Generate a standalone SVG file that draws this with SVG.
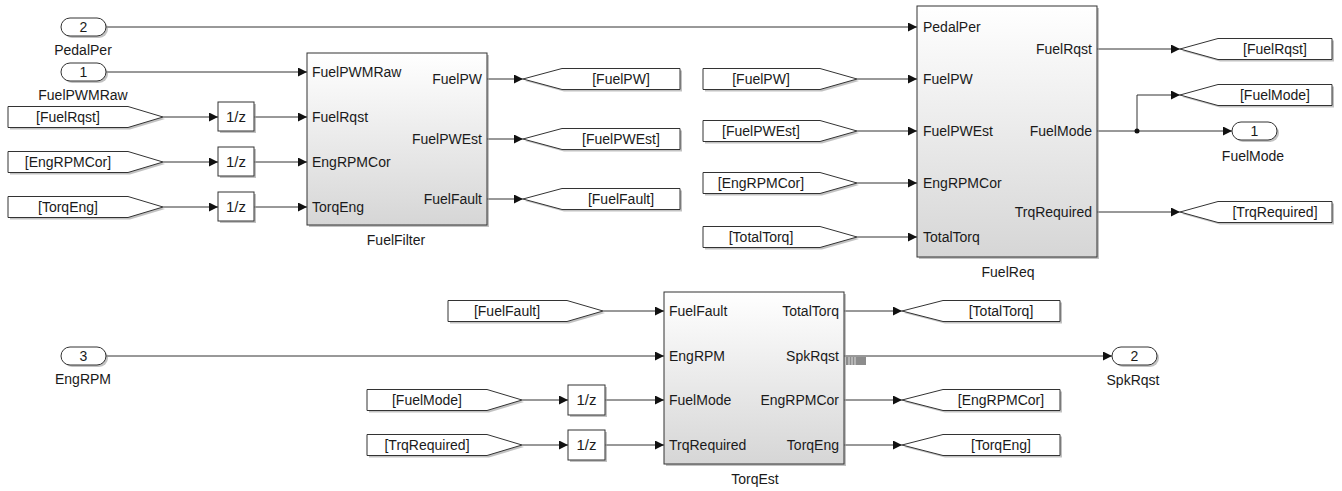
<svg xmlns="http://www.w3.org/2000/svg" width="1342" height="491" viewBox="0 0 1342 491">
<style>
text{font-family:"Liberation Sans","DejaVu Sans",sans-serif;font-size:14px;fill:#1a1a1a}
.c{text-anchor:middle}
.r{text-anchor:end}
.blk{fill:url(#g);stroke:#333;stroke-width:1}
.sh{fill:#9a9a9a;opacity:.6}
.tag{fill:#fff;stroke:#333;stroke-width:1}
.ln{fill:none;stroke:#333;stroke-width:1;marker-end:url(#a)}
.ln0{fill:none;stroke:#333;stroke-width:1}
.dz{fill:#fff;stroke:#333;stroke-width:1}
</style>
<defs>
<linearGradient id="g" x1="0" y1="0" x2="0" y2="1"><stop offset="0" stop-color="#ffffff"/><stop offset="1" stop-color="#d6d6d6"/></linearGradient>
<marker id="a" markerUnits="userSpaceOnUse" markerWidth="10" markerHeight="10" refX="9" refY="4.5" orient="auto"><path d="M0,0L9,4.5L0,9z" fill="#111"/></marker>
</defs>
<rect width="1342" height="491" fill="#fff"/>

<g id="connectors">
<path class="ln" d="M106,27H917"/>
<path class="ln" d="M106,72H307"/>
<path class="ln" d="M163,117H218"/><path class="ln" d="M254,117H307"/>
<path class="ln" d="M163,162H218"/><path class="ln" d="M254,162H307"/>
<path class="ln" d="M163,207H218"/><path class="ln" d="M254,207H307"/>
<path class="ln" d="M487,79H523"/><path class="ln" d="M487,139H523"/><path class="ln" d="M487,199H523"/>
<path class="ln" d="M857,79H917"/><path class="ln" d="M857,131H917"/><path class="ln" d="M857,183H917"/><path class="ln" d="M857,237H917"/>
<path class="ln" d="M1097,49H1180"/>
<path class="ln" d="M1097,131H1232"/>
<path class="ln" d="M1137,131V95H1180"/>
<circle cx="1137" cy="131" r="2.5" fill="#111"/>
<path class="ln" d="M1097,212H1180"/>
<path class="ln" d="M603,311H664"/>
<path class="ln" d="M106,356H664"/>
<path class="ln" d="M522,400H568"/><path class="ln" d="M605,400H664"/>
<path class="ln" d="M522,445H568"/><path class="ln" d="M605,445H664"/>
<path class="ln" d="M844,311H902"/>
<path class="ln" d="M844,356H1112"/>
<path class="ln" d="M844,400H902"/>
<path class="ln" d="M844,445H902"/>
<g id="busmark"><rect x="846" y="357" width="20" height="8" fill="#8c8c8c"/><path d="M849,357v8M852,357v8M855,357v8" stroke="#d0d0d0" stroke-width="1.2"/></g>
</g>

<g id="in_PedalPer"><rect class="sh" x="63" y="20" width="45" height="18" rx="9"/><rect class="tag" x="61" y="18" width="45" height="18" rx="9"/><text class="c" x="83.5" y="32">2</text><text class="c" x="83" y="55">PedalPer</text></g>
<g id="in_FuelPWMRaw"><rect class="sh" x="63" y="65" width="45" height="18" rx="9"/><rect class="tag" x="61" y="63" width="45" height="18" rx="9"/><text class="c" x="83.5" y="77">1</text><text class="c" x="83" y="100">FuelPWMRaw</text></g>
<g id="in_EngRPM"><rect class="sh" x="63" y="349" width="45" height="18" rx="9"/><rect class="tag" x="61" y="347" width="45" height="18" rx="9"/><text class="c" x="83.5" y="361">3</text><text class="c" x="83" y="384">EngRPM</text></g>

<g id="from_FuelRqst"><path class="sh" d="M10,108.5H130L165,119L130,129.5H10z"/><path class="tag" d="M8,106.5H128L163,117L128,127.5H8z"/><text class="c" x="68" y="122">[FuelRqst]</text></g>
<g id="from_EngRPMCor1"><path class="sh" d="M10,153.5H130L165,164L130,174.5H10z"/><path class="tag" d="M8,151.5H128L163,162L128,172.5H8z"/><text class="c" x="68" y="167">[EngRPMCor]</text></g>
<g id="from_TorqEng"><path class="sh" d="M10,198.5H130L165,209L130,219.5H10z"/><path class="tag" d="M8,196.5H128L163,207L128,217.5H8z"/><text class="c" x="68" y="212">[TorqEng]</text></g>

<g id="delay1"><rect class="sh" x="220" y="104" width="36" height="29"/><rect class="dz" x="218" y="102" width="36" height="29"/><text class="c" x="236" y="122" style="font-size:15px">1/z</text></g>
<g id="delay2"><rect class="sh" x="220" y="149" width="36" height="29"/><rect class="dz" x="218" y="147" width="36" height="29"/><text class="c" x="236" y="167" style="font-size:15px">1/z</text></g>
<g id="delay3"><rect class="sh" x="220" y="194" width="36" height="29"/><rect class="dz" x="218" y="192" width="36" height="29"/><text class="c" x="236" y="212" style="font-size:15px">1/z</text></g>

<g id="FuelFilter"><rect class="sh" x="309" y="55" width="180" height="172"/><rect class="blk" x="307" y="53" width="180" height="172"/>
<text x="312" y="77">FuelPWMRaw</text><text x="312" y="122">FuelRqst</text><text x="312" y="167">EngRPMCor</text><text x="312" y="212">TorqEng</text>
<text class="r" x="482" y="84">FuelPW</text><text class="r" x="482" y="144">FuelPWEst</text><text class="r" x="482" y="204">FuelFault</text>
<text class="c" x="396" y="245">FuelFilter</text></g>

<g id="goto_FuelPW"><path class="sh" d="M525,81L564,70.5H682V91.5H564z"/><path class="tag" d="M523,79L562,68.5H680V89.5H562z"/><text class="c" x="621" y="84">[FuelPW]</text></g>
<g id="goto_FuelPWEst"><path class="sh" d="M525,141L564,130.5H682V151.5H564z"/><path class="tag" d="M523,139L562,128.5H680V149.5H562z"/><text class="c" x="621" y="144">[FuelPWEst]</text></g>
<g id="goto_FuelFault"><path class="sh" d="M525,201L564,190.5H682V211.5H564z"/><path class="tag" d="M523,199L562,188.5H680V209.5H562z"/><text class="c" x="621" y="204">[FuelFault]</text></g>

<g id="from_FuelPW"><path class="sh" d="M705,70.5H822L859,81L822,91.5H705z"/><path class="tag" d="M703,68.5H820L857,79L820,89.5H703z"/><text class="c" x="761" y="84">[FuelPW]</text></g>
<g id="from_FuelPWEst"><path class="sh" d="M705,122.5H822L859,133L822,143.5H705z"/><path class="tag" d="M703,120.5H820L857,131L820,141.5H703z"/><text class="c" x="761" y="136">[FuelPWEst]</text></g>
<g id="from_EngRPMCor2"><path class="sh" d="M705,174.5H822L859,185L822,195.5H705z"/><path class="tag" d="M703,172.5H820L857,183L820,193.5H703z"/><text class="c" x="761" y="188">[EngRPMCor]</text></g>
<g id="from_TotalTorq"><path class="sh" d="M705,228.5H822L859,239L822,249.5H705z"/><path class="tag" d="M703,226.5H820L857,237L820,247.5H703z"/><text class="c" x="761" y="242">[TotalTorq]</text></g>

<g id="FuelReq"><rect class="sh" x="919" y="8" width="180" height="251"/><rect class="blk" x="917" y="6" width="180" height="251"/>
<text x="923" y="32">PedalPer</text><text x="923" y="84">FuelPW</text><text x="923" y="136">FuelPWEst</text><text x="923" y="188">EngRPMCor</text><text x="923" y="242">TotalTorq</text>
<text class="r" x="1092" y="54">FuelRqst</text><text class="r" x="1092" y="136">FuelMode</text><text class="r" x="1092" y="217">TrqRequired</text>
<text class="c" x="1008" y="277">FuelReq</text></g>

<g id="goto_FuelRqst"><path class="sh" d="M1182,51L1220,40.5H1334V61.5H1220z"/><path class="tag" d="M1180,49L1218,38.5H1332V59.5H1218z"/><text class="c" x="1275" y="54">[FuelRqst]</text></g>
<g id="goto_FuelMode"><path class="sh" d="M1182,97L1220,86.5H1334V107.5H1220z"/><path class="tag" d="M1180,95L1218,84.5H1332V105.5H1218z"/><text class="c" x="1275" y="100">[FuelMode]</text></g>
<g id="out_FuelMode"><rect class="sh" x="1234" y="124" width="45" height="18" rx="9"/><rect class="tag" x="1232" y="122" width="45" height="18" rx="9"/><text class="c" x="1254.5" y="136">1</text><text class="c" x="1253" y="161">FuelMode</text></g>
<g id="goto_TrqRequired"><path class="sh" d="M1182,214L1220,203.5H1334V224.5H1220z"/><path class="tag" d="M1180,212L1218,201.5H1332V222.5H1218z"/><text class="c" x="1275" y="217">[TrqRequired]</text></g>

<g id="from_FuelFault"><path class="sh" d="M450,302.5H569L605,313L569,323.5H450z"/><path class="tag" d="M448,300.5H567L603,311L567,321.5H448z"/><text class="c" x="507" y="316">[FuelFault]</text></g>
<g id="from_FuelMode"><path class="sh" d="M369,391.5H489L524,402L489,412.5H369z"/><path class="tag" d="M367,389.5H487L522,400L487,410.5H367z"/><text class="c" x="427" y="405">[FuelMode]</text></g>
<g id="from_TrqRequired"><path class="sh" d="M369,436.5H489L524,447L489,457.5H369z"/><path class="tag" d="M367,434.5H487L522,445L487,455.5H367z"/><text class="c" x="427" y="450">[TrqRequired]</text></g>

<g id="delay4"><rect class="sh" x="570" y="387" width="37" height="30"/><rect class="dz" x="568" y="385" width="37" height="30"/><text class="c" x="586.5" y="405" style="font-size:15px">1/z</text></g>
<g id="delay5"><rect class="sh" x="570" y="432" width="37" height="30"/><rect class="dz" x="568" y="430" width="37" height="30"/><text class="c" x="586.5" y="450" style="font-size:15px">1/z</text></g>

<g id="TorqEst"><rect class="sh" x="666" y="294" width="180" height="172"/><rect class="blk" x="664" y="292" width="180" height="172"/>
<text x="669" y="316">FuelFault</text><text x="669" y="361">EngRPM</text><text x="669" y="405">FuelMode</text><text x="669" y="450">TrqRequired</text>
<text class="r" x="839" y="316">TotalTorq</text><text class="r" x="839" y="361">SpkRqst</text><text class="r" x="839" y="405">EngRPMCor</text><text class="r" x="839" y="450">TorqEng</text>
<text class="c" x="755" y="484">TorqEst</text></g>

<g id="goto_TotalTorq"><path class="sh" d="M904,313L945,302.5H1062V323.5H945z"/><path class="tag" d="M902,311L943,300.5H1060V321.5H943z"/><text class="c" x="1001" y="316">[TotalTorq]</text></g>
<g id="out_SpkRqst"><rect class="sh" x="1114" y="349" width="45" height="18" rx="9"/><rect class="tag" x="1112" y="347" width="45" height="18" rx="9"/><text class="c" x="1134.5" y="361">2</text><text class="c" x="1133" y="385">SpkRqst</text></g>
<g id="goto_EngRPMCor"><path class="sh" d="M904,402L945,391.5H1062V412.5H945z"/><path class="tag" d="M902,400L943,389.5H1060V410.5H943z"/><text class="c" x="1001" y="405">[EngRPMCor]</text></g>
<g id="goto_TorqEng"><path class="sh" d="M904,447L945,436.5H1062V457.5H945z"/><path class="tag" d="M902,445L943,434.5H1060V455.5H943z"/><text class="c" x="1001" y="450">[TorqEng]</text></g>
</svg>
